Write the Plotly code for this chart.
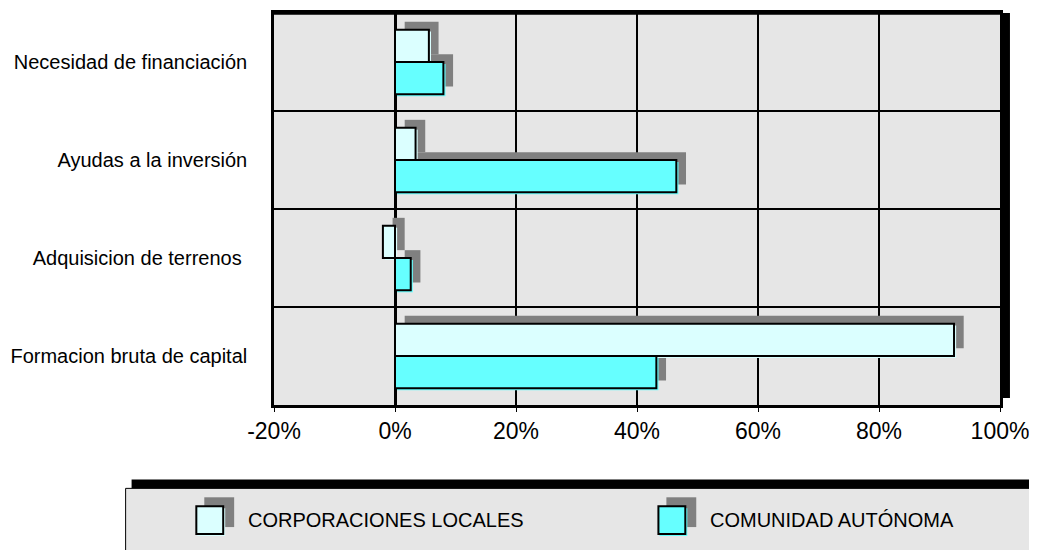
import plotly.graph_objects as go

# Data (top to bottom, as shown)
categorias = [
    "Necesidad de financiación",
    "Ayudas a la inversión",
    "Adquisicion de terrenos ",
    "Formacion bruta de capital",
]
corporaciones_locales = [5.6, 3.4, -2.0, 92.4]
comunidad_autonoma = [8.0, 46.5, 2.6, 43.2]
tick_vals = [-20, 0, 20, 40, 60, 80, 100]
tick_text = ["-20%", "0%", "20%", "40%", "60%", "80%", "100%"]

FONT = "Liberation Sans, Arial, sans-serif"
CL_COLOR = "#DBFFFF"
CA_COLOR = "#66FFFF"
SHADOW = "#808080"
BG = "#E6E6E6"

# page body has an 8px margin; work in screen pixels
OFF = 8
L, R, T, B = 271, 1000, 10, 405
SW, SH = 1037, 550
W, H = SW - OFF, SH - OFF

def px(x):
    return (x - L) / (R - L)

def py(y):
    return (B - y) / (B - T)

bar_w = 0.33
sh_x = 1.6     # shadow shift (in %)
sh_y = 0.08    # shadow shift (category units, upward)

fig = go.Figure()

# shadows
for vals, off in [(corporaciones_locales, -bar_w), (comunidad_autonoma, 0)]:
    fig.add_trace(go.Bar(
        y=categorias, x=vals, base=[sh_x] * len(vals), orientation="h",
        width=bar_w, offset=off - sh_y,
        marker=dict(color=SHADOW, line=dict(width=0)),
        hoverinfo="skip", showlegend=False,
    ))

# slight fill halo + outlined bars
for vals, off, col, name in [
    (corporaciones_locales, -bar_w, CL_COLOR, "CORPORACIONES LOCALES"),
    (comunidad_autonoma, 0, CA_COLOR, "COMUNIDAD AUTÓNOMA"),
]:
    fig.add_trace(go.Bar(
        y=categorias, x=vals, base=[0.35] * len(vals), orientation="h",
        width=bar_w, offset=off + 0.02,
        marker=dict(color=col, line=dict(width=0)),
        hoverinfo="skip", showlegend=False,
    ))
    fig.add_trace(go.Bar(
        y=categorias, x=vals, orientation="h", name=name,
        width=bar_w, offset=off,
        marker=dict(color=col, line=dict(color="black", width=2)),
        showlegend=False,
    ))

shapes = [
    # thick top border
    dict(type="line", xref="paper", yref="paper", x0=px(L), x1=px(R + 2),
         y0=1, y1=1, line=dict(color="black", width=3.5)),
    # thick right shadow bar
    dict(type="rect", xref="paper", yref="paper", x0=px(1003), x1=px(1010),
         y0=py(398), y1=py(10), fillcolor="black", line=dict(width=0)),
    # legend box
    dict(type="rect", xref="paper", yref="paper", x0=px(122), x1=px(1045),
         y0=py(555), y1=py(489), fillcolor=BG, line=dict(color="black", width=1)),
    dict(type="rect", xref="paper", yref="paper", x0=px(128), x1=px(1045),
         y0=py(489), y1=py(480), fillcolor="black", line=dict(width=0)),
]

annotations = []
legend_items = [(193, CL_COLOR, "CORPORACIONES LOCALES"), (657, CA_COLOR, "COMUNIDAD AUTÓNOMA")]
for x0, col, label in legend_items:
    shapes.append(dict(type="rect", xref="paper", yref="paper",
                       x0=px(x0 + 8), x1=px(x0 + 38), y0=py(528), y1=py(498),
                       fillcolor=SHADOW, line=dict(width=0)))
    shapes.append(dict(type="rect", xref="paper", yref="paper",
                       x0=px(x0 + 1), x1=px(x0 + 29), y0=py(537), y1=py(509),
                       fillcolor=col, line=dict(width=0)))
    shapes.append(dict(type="rect", xref="paper", yref="paper",
                       x0=px(x0), x1=px(x0 + 27), y0=py(535), y1=py(507),
                       fillcolor=col, line=dict(color="black", width=2)))
    annotations.append(dict(xref="paper", yref="paper", x=px(x0 + 53), y=py(521),
                            text=label, showarrow=False, xanchor="left", yanchor="middle",
                            xshift=-3, font=dict(family=FONT, size=20, color="black")))

fig.update_layout(
    width=W, height=H,
    margin=dict(l=L - OFF, r=SW - R, t=T - OFF, b=SH - B),
    barmode="overlay",
    plot_bgcolor=BG, paper_bgcolor="white",
    font=dict(family=FONT, color="black"),
    shapes=shapes, annotations=annotations,
    showlegend=False,
)
fig.update_xaxes(
    range=[-20, 100], tickvals=tick_vals, ticktext=tick_text,
    showgrid=True, gridcolor="black", gridwidth=1.5,
    zeroline=True, zerolinecolor="black", zerolinewidth=2.5,
    showline=True, linecolor="black", linewidth=2.5, mirror=True,
    ticks="outside", ticklen=4, tickcolor="black",
    tickfont=dict(family=FONT, size=23, color="black"),
)
fig.update_yaxes(
    categoryorder="array", categoryarray=categorias, autorange="reversed",
    tickson="boundaries", showgrid=True, gridcolor="black", gridwidth=1.5,
    showline=True, linecolor="black", linewidth=2.5, mirror=True,
    ticks="", ticklabelstandoff=20,
    tickfont=dict(family=FONT, size=20, color="black"),
)

fig.write_html("out.html")
